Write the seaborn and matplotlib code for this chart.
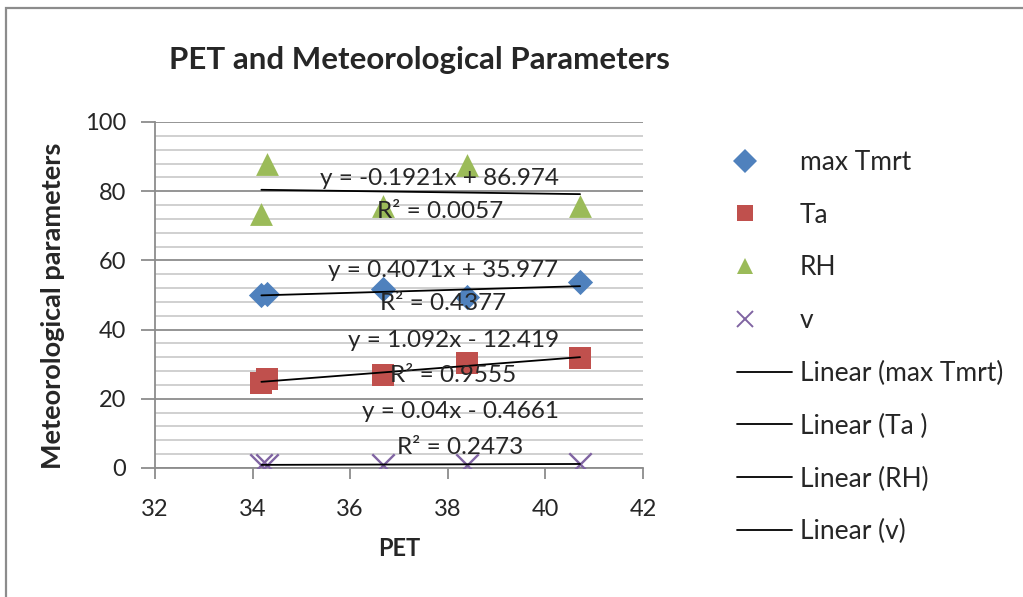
import numpy as np
import pandas as pd
import seaborn as sns
import matplotlib.pyplot as plt
from matplotlib.lines import Line2D
from matplotlib.legend_handler import HandlerLine2DCompound
from matplotlib.patches import Rectangle
from matplotlib.ticker import MultipleLocator

# Observations: PET against the meteorological parameters
pet = [34.18, 34.29, 36.68, 38.39, 40.71]
max_tmrt = [50.0, 50.4, 51.7, 49.3, 53.9]
ta = [24.5, 25.6, 27.0, 30.4, 31.9]
rh = [73.5, 88.0, 75.6, 87.5, 75.7]
v = [0.9, 1.0, 0.9, 1.0, 1.2]

series_names = ["max Tmrt", "Ta", "RH", "v"]
trend_names = ["Linear (max Tmrt)", "Linear (Ta )", "Linear (RH)", "Linear (v)"]

# Linear trendline coefficients and goodness of fit
slopes = [0.4071, 1.092, -0.1921, 0.04]
intercepts = [35.977, -12.419, 86.974, -0.4661]
r_squared = [0.4377, 0.9555, 0.0057, 0.2473]

x_ticks = [32, 34, 36, 38, 40, 42]
y_ticks = [0, 20, 40, 60, 80, 100]

colors = ["#4F81BD", "#C0504D", "#9BBB59", "#8064A2"]
markers = ["D", "s", "^", "x"]
marker_sizes = [165, 230, 270, 260]
# where each equation / R² pair is written (data coordinates)
label_pos = [(37.91, 57.1, 47.5), (38.11, 36.9, 26.8), (37.84, 83.6, 74.0), (38.25, 16.2, 5.9)]

sns.set_theme(style="white")
plt.rcParams["font.family"] = ["Lato", "DejaVu Sans"]

fig = plt.figure(figsize=(10.23, 5.97), dpi=100)
ax = fig.add_axes([155 / 1023, 1 - 468 / 597, 488 / 1023, 346 / 597])

df = pd.DataFrame({"PET": pet, "max Tmrt": max_tmrt, "Ta": ta, "RH": rh, "v": v})

for name, col, mk, sz in zip(series_names, colors, markers, marker_sizes):
    kw = dict(linewidth=1.7) if mk == "x" else dict(linewidth=0)
    sns.scatterplot(data=df, x="PET", y=name, color=col, marker=mk, s=sz,
                    ax=ax, zorder=3, legend=False, **kw)

xs = np.array([min(pet), max(pet)])
for m, b in zip(slopes, intercepts):
    sns.lineplot(x=xs, y=m * xs + b, color="black", linewidth=1.3, ax=ax,
                 zorder=4, legend=False)


def eq_text(m, b):
    sign = "+" if b >= 0 else "-"
    return f"y = {m:g}x {sign} {abs(b):g}"


for (lx, y1, y2), m, b, r2 in zip(label_pos, slopes, intercepts, r_squared):
    ax.text(lx, y1, eq_text(m, b), ha="center", va="center", fontsize=17.5, zorder=5)
    ax.text(lx, y2, f"R² = {r2:.4f}", ha="center", va="center", fontsize=17.5, zorder=5)

ax.set_xlim(32, 42)
ax.set_ylim(0, 100)
ax.set_xticks(x_ticks)
ax.set_yticks(y_ticks)
ax.yaxis.set_minor_locator(MultipleLocator(4))
ax.grid(axis="y", which="major", color="#8c8c8c", linewidth=1.3)
ax.grid(axis="y", which="minor", color="#c4c4c4", linewidth=1.1)
ax.grid(axis="x", visible=False)
ax.set_axisbelow(True)

for side in ["top", "right"]:
    ax.spines[side].set_visible(False)
for side in ["left", "bottom"]:
    ax.spines[side].set_color("#8c8c8c")
    ax.spines[side].set_linewidth(1.3)

ax.tick_params(axis="y", which="major", direction="out", length=10, width=1.3,
               color="#8c8c8c", labelsize=17, pad=11, left=True)
ax.tick_params(axis="y", which="minor", length=0)
ax.tick_params(axis="x", which="major", direction="out", length=8, width=1.3,
               color="#8c8c8c", labelsize=17, pad=14, bottom=True)

ax.set_xlabel("PET", fontsize=17, fontweight="bold")
ax.set_ylabel("Meteorological parameters", fontsize=19.5, fontweight="bold")
ax.xaxis.set_label_coords(0.5, -0.2)
ax.yaxis.set_label_coords(-0.185, 0.468)

fig.text(419 / 1023, 1 - 60 / 597, "PET and Meteorological Parameters",
         ha="center", va="center", fontsize=22.5, fontweight="bold")


class LeftMarkerHandler(HandlerLine2DCompound):
    def get_xdata(self, legend, xdescent, ydescent, width, height, fontsize):
        xdata, _ = super().get_xdata(legend, xdescent, ydescent, width, height, fontsize)
        return xdata, [-xdescent + 0.15 * width]


handles = []
handler_map = {}
for name, col, mk in zip(series_names, colors, markers):
    if mk == "x":
        h = Line2D([], [], linestyle="none", marker=mk, color=col, markersize=12,
                   markeredgewidth=1.4)
    else:
        h = Line2D([], [], linestyle="none", marker=mk, color=col, markersize=12,
                   markeredgewidth=0)
    handles.append(h)
    handler_map[h] = LeftMarkerHandler()
for name in trend_names:
    handles.append(Line2D([], [], color="black", linewidth=1.3))

fig.legend(handles, series_names + trend_names, loc="upper left",
           bbox_to_anchor=(737 / 1023, 1 - 150 / 597), frameon=False,
           fontsize=19, handlelength=2.08, handletextpad=0.3, labelspacing=1.05,
           borderpad=0, borderaxespad=0, handler_map=handler_map)

fig.add_artist(Rectangle((6 / 1023, -0.5), 2.0, 0.5 + 1 - 8 / 597,
                         transform=fig.transFigure, fill=False,
                         edgecolor="#8c8c8c", linewidth=1.6))

fig.savefig("out.png", dpi=100)
